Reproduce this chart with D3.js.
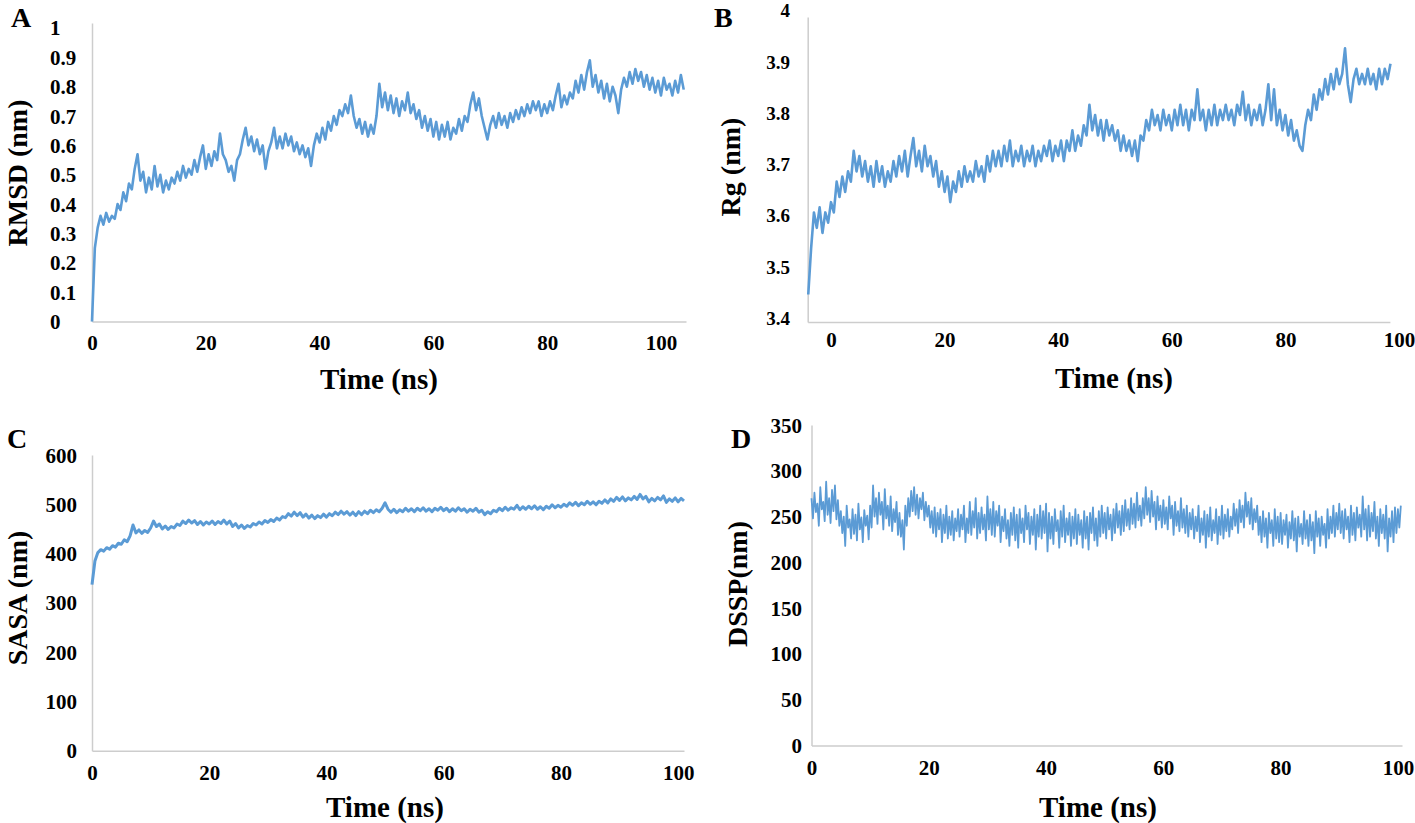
<!DOCTYPE html>
<html><head><meta charset="utf-8">
<script src="https://cdn.jsdelivr.net/npm/d3@7"></script>
<style>
body{margin:0;background:#fff}
svg{display:block}
text{font-family:"Liberation Serif","Times New Roman",serif;font-weight:bold;fill:#000}
</style>
</head><body>
<svg id="chart" width="1415" height="823"></svg>
<script>
// ---------- DATA ----------
const rmsdStart = 0, rmsdStep = 0.5;
const rmsd = [
0.00,0.25,0.32,0.36,0.33,0.37,0.34,0.36,0.35,0.40,
0.38,0.44,0.41,0.47,0.45,0.52,0.57,0.48,0.51,0.44,
0.49,0.45,0.53,0.46,0.50,0.44,0.48,0.45,0.49,0.47,
0.51,0.48,0.53,0.49,0.52,0.50,0.55,0.51,0.56,0.60,
0.52,0.57,0.53,0.58,0.55,0.64,0.57,0.55,0.51,0.53,
0.48,0.55,0.57,0.62,0.66,0.60,0.63,0.58,0.62,0.57,
0.60,0.52,0.58,0.61,0.66,0.59,0.63,0.59,0.64,0.60,
0.63,0.58,0.61,0.57,0.60,0.56,0.59,0.53,0.60,0.64,
0.61,0.66,0.62,0.68,0.65,0.70,0.67,0.72,0.70,0.74,
0.71,0.77,0.70,0.66,0.69,0.64,0.68,0.63,0.67,0.64,
0.70,0.81,0.73,0.78,0.72,0.77,0.71,0.76,0.70,0.75,
0.72,0.78,0.71,0.74,0.69,0.72,0.66,0.70,0.65,0.69,
0.63,0.68,0.62,0.67,0.63,0.68,0.62,0.66,0.64,0.69,
0.65,0.70,0.68,0.74,0.78,0.72,0.76,0.70,0.66,0.62,
0.67,0.70,0.66,0.71,0.67,0.70,0.66,0.71,0.68,0.72,
0.69,0.73,0.70,0.74,0.71,0.75,0.72,0.75,0.70,0.74,
0.71,0.75,0.72,0.77,0.81,0.73,0.77,0.74,0.78,0.76,
0.82,0.78,0.84,0.79,0.85,0.89,0.80,0.84,0.78,0.82,
0.76,0.81,0.75,0.80,0.77,0.71,0.79,0.83,0.80,0.85,
0.81,0.86,0.82,0.85,0.80,0.84,0.79,0.83,0.78,0.82,
0.77,0.83,0.79,0.81,0.77,0.82,0.78,0.84,0.79
];

const rgStart = -4, rgStep = 0.5;
const rg = [
3.44,3.53,3.60,3.57,3.61,3.56,3.60,3.58,3.62,3.60,
3.66,3.63,3.67,3.64,3.68,3.66,3.72,3.68,3.71,3.67,
3.70,3.66,3.69,3.65,3.70,3.66,3.69,3.65,3.68,3.66,
3.70,3.67,3.71,3.68,3.72,3.67,3.71,3.745,3.69,3.72,
3.68,3.73,3.69,3.71,3.67,3.70,3.65,3.68,3.64,3.67,
3.62,3.66,3.64,3.68,3.65,3.69,3.66,3.68,3.66,3.70,
3.67,3.69,3.66,3.71,3.68,3.72,3.69,3.72,3.69,3.73,
3.70,3.74,3.69,3.72,3.70,3.73,3.69,3.72,3.70,3.73,
3.69,3.72,3.70,3.73,3.71,3.74,3.70,3.73,3.71,3.74,
3.70,3.74,3.72,3.76,3.72,3.75,3.73,3.77,3.75,3.81,
3.76,3.79,3.75,3.78,3.74,3.78,3.75,3.77,3.74,3.76,
3.72,3.75,3.72,3.74,3.71,3.74,3.70,3.75,3.74,3.78,
3.76,3.80,3.77,3.79,3.76,3.80,3.77,3.79,3.76,3.80,
3.77,3.81,3.77,3.80,3.76,3.80,3.78,3.84,3.78,3.80,
3.76,3.80,3.77,3.81,3.77,3.80,3.78,3.81,3.78,3.80,
3.77,3.81,3.79,3.835,3.78,3.81,3.77,3.80,3.78,3.81,
3.77,3.80,3.85,3.78,3.84,3.77,3.80,3.76,3.79,3.75,
3.78,3.74,3.76,3.73,3.72,3.77,3.80,3.78,3.83,3.80,
3.84,3.82,3.86,3.83,3.87,3.84,3.88,3.85,3.87,3.92,
3.85,3.815,3.86,3.88,3.85,3.87,3.85,3.88,3.85,3.87,
3.84,3.88,3.85,3.88,3.86,3.89
];

const sasaStart = 0, sasaStep = 0.5;
const sasa = [
337,385,402,408,405,412,409,416,413,421,
419,428,424,436,458,442,448,441,447,443,
452,466,455,460,450,456,449,455,452,460,
457,466,461,468,462,467,459,465,458,464,
460,466,459,465,461,468,460,466,455,461,
452,458,451,457,454,461,458,464,460,467,
463,469,465,472,468,475,473,481,476,484,
477,483,474,480,472,478,471,477,473,480,
474,481,477,484,479,486,480,485,478,484,
477,485,479,486,481,488,483,489,485,492,
503,490,484,490,483,489,485,492,486,491,
485,492,487,493,486,491,485,492,488,494,
487,492,485,491,486,493,487,491,484,490,
486,492,484,488,479,485,481,488,485,492,
487,494,488,493,490,498,489,495,490,496,
491,497,490,495,489,496,492,499,493,498,
494,500,496,503,498,504,497,503,499,506,
500,505,499,506,502,509,503,511,506,514,
508,515,507,513,509,516,510,520,511,516,
505,512,507,514,509,517,504,511,506,513,
505,512,507
];

const dsspStart = 0, dsspStep = 0.25;
const dssp = [
270,248,276,255,264,240,282,258,266,245,288,252,270,243,279,256,284,247,268,240,
256,232,250,218,262,238,247,226,258,231,252,224,264,236,249,222,257,240,251,225,
262,238,284,250,270,242,276,252,266,236,280,248,262,240,272,234,258,244,266,230,
254,228,246,214,262,240,270,250,278,256,282,252,274,248,270,258,276,246,266,250,
262,238,256,232,260,228,254,236,258,222,252,232,262,226,250,230,256,224,248,234,
258,228,252,236,262,222,248,232,266,230,256,238,270,226,254,232,260,236,252,224,
272,236,258,230,266,228,256,240,262,222,250,234,258,226,246,218,254,230,260,224,
252,216,258,232,248,222,262,236,254,220,250,230,258,214,252,228,262,226,256,232,
264,212,254,226,250,220,258,234,246,216,256,228,262,222,248,230,254,218,250,226,
258,220,252,230,246,216,256,226,250,214,254,232,260,224,248,218,256,228,262,232,
254,226,260,236,252,224,258,232,264,238,256,230,262,234,268,240,258,236,270,242,
264,238,276,246,262,240,270,248,282,252,270,244,278,250,266,236,272,246,262,238,
268,242,260,236,272,248,262,230,266,240,256,234,270,238,258,232,262,228,254,236,
258,226,250,234,262,222,248,230,256,216,252,228,260,224,246,232,258,220,250,230,
262,226,252,234,258,228,250,236,264,240,258,232,268,244,262,238,276,250,266,242,
270,236,258,244,262,230,250,222,256,228,248,216,254,232,246,218,258,226,250,222,
254,220,246,230,252,216,244,226,256,224,248,212,250,228,242,220,256,226,246,218,
252,224,244,210,256,228,248,218,250,230,242,216,258,226,250,232,262,228,254,236,
264,232,256,226,258,236,250,222,262,230,254,224,260,238,252,228,272,236,258,224,
262,228,254,234,266,226,250,218,258,232,252,226,262,212,248,228,256,222,260,232,
258,238,262
];

const timeTicks = [0, 20, 40, 60, 80, 100];
const rmsdTicks = [0, 0.1, 0.2, 0.3, 0.4, 0.5, 0.6, 0.7, 0.8, 0.9, 1];
const rgTicks = [3.4, 3.5, 3.6, 3.7, 3.8, 3.9, 4];
const sasaTicks = [0, 100, 200, 300, 400, 500, 600];
const dsspTicks = [0, 50, 100, 150, 200, 250, 300, 350];

// ---------- LAYOUT ----------
const panels = [
  {letter:"A", values:rmsd, start:rmsdStart, step:rmsdStep, yTicks:rmsdTicks, yTitle:"RMSD (nm)",
   xd:[0,104.4], xr:[92,686], yd:[0,1.017], yr:[321.5,23], lw:2.6,
   yLabX:50, yAnchor:"start", yLabDy:0, yLabSize:21, xLabY:343, letterPos:[11,27],
   yTitlePos:[17,173], xTitlePos:[379,379]},
  {letter:"B", values:rg, start:rgStart, step:rgStep, yTicks:rgTicks, yTitle:"Rg (nm)",
   xd:[-4.1,98.4], xr:[807.7,1389.9], yd:[3.3864,3.981], yr:[322,17], lw:2.6,
   yLabX:790, yAnchor:"end", yLabDy:3, yLabSize:19, xLabY:340, letterPos:[714,27],
   yTitlePos:[730,167], xTitlePos:[1114,378]},
  {letter:"C", values:sasa, start:sasaStart, step:sasaStep, yTicks:sasaTicks, yTitle:"SASA (nm)",
   xd:[0,101], xr:[92,684], yd:[0,600], yr:[750.8,455], lw:3,
   yLabX:77, yAnchor:"end", yLabDy:0, yLabSize:21, xLabY:773, letterPos:[7,448],
   yTitlePos:[17,598], xTitlePos:[385,807]},
  {letter:"D", values:dssp, start:dsspStart, step:dsspStep, yTicks:dsspTicks, yTitle:"DSSP(nm)",
   xd:[0,100.7], xr:[811.5,1402], yd:[0,350], yr:[745.5,425], lw:1.8,
   yLabX:802, yAnchor:"end", yLabDy:0, yLabSize:21, xLabY:768, letterPos:[731,448],
   yTitlePos:[737,584], xTitlePos:[1098,807]}
];

const svg = d3.select("#chart");
const axisColor = "#cdcdcd";
const lineColor = "#5b9bd5";
const fontStack = '"Liberation Serif","Times New Roman",serif';

panels.forEach(p => {
  const x = d3.scaleLinear().domain(p.xd).range(p.xr);
  const y = d3.scaleLinear().domain(p.yd).range(p.yr);
  const g = svg.append("g");

  // y axis
  const ya = g.append("g").attr("transform", `translate(${p.xr[0]},0)`)
    .call(d3.axisLeft(y).tickValues(p.yTicks).tickSize(0).tickSizeOuter(0).tickFormat(d => String(d)));
  ya.select(".domain").attr("stroke", axisColor).attr("stroke-width", 1.5);
  ya.selectAll("text")
    .attr("x", p.yLabX - p.xr[0]).attr("dy", p.yLabDy)
    .attr("dominant-baseline", "central")
    .attr("text-anchor", p.yAnchor)
    .style("font-size", p.yLabSize + "px").style("font-family", fontStack)
    .style("font-weight", "bold").attr("fill", "#000");

  // x axis
  const xa = g.append("g").attr("transform", `translate(0,${p.yr[0]})`)
    .call(d3.axisBottom(x).tickValues(timeTicks).tickSize(0).tickSizeOuter(0).tickFormat(d => String(d)));
  xa.select(".domain").attr("stroke", axisColor).attr("stroke-width", 1.5);
  xa.selectAll("text")
    .attr("y", p.xLabY - p.yr[0]).attr("dy", null)
    .attr("dominant-baseline", "central")
    .style("font-size", "21px").style("font-family", fontStack)
    .style("font-weight", "bold").attr("fill", "#000");

  // series line
  const pts = p.values.map((v, i) => [p.start + i * p.step, v]);
  g.append("path").datum(pts)
    .attr("fill", "none").attr("stroke", lineColor).attr("stroke-width", p.lw)
    .attr("stroke-linejoin", "round")
    .attr("d", d3.line().x(d => x(d[0])).y(d => y(d[1])));

  // titles
  g.append("text").text(p.yTitle)
    .attr("transform", `translate(${p.yTitlePos[0]},${p.yTitlePos[1]}) rotate(-90)`)
    .attr("text-anchor", "middle").attr("dominant-baseline", "central")
    .style("font-size", "28px");
  g.append("text").text("Time (ns)")
    .attr("x", p.xTitlePos[0]).attr("y", p.xTitlePos[1])
    .attr("text-anchor", "middle").attr("dominant-baseline", "central")
    .style("font-size", "29px");
  g.append("text").text(p.letter)
    .attr("x", p.letterPos[0]).attr("y", p.letterPos[1])
    .style("font-size", "28px");
});
</script>
</body></html>
